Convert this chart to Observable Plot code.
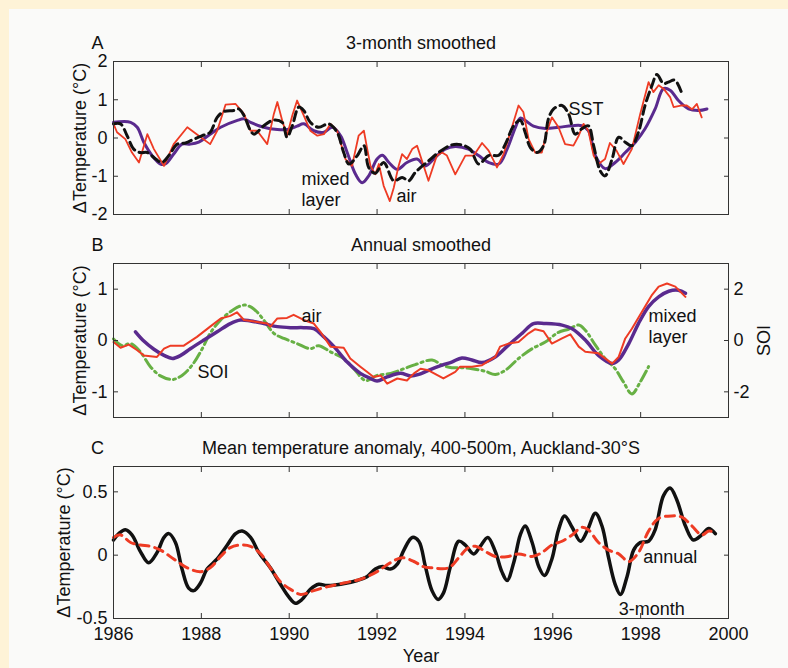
<!DOCTYPE html>
<html><head><meta charset="utf-8">
<script src="https://cdn.jsdelivr.net/npm/d3@7"></script>
<script src="https://cdn.jsdelivr.net/npm/@observablehq/plot@0.6"></script>
<style>
html,body{margin:0;padding:0;}
body{width:788px;height:668px;background:#FEF3D7;overflow:hidden;position:relative;}
#inner{position:absolute;left:9px;top:9px;width:779px;height:659px;background:#FAFAF9;}
.panel{position:absolute;left:0;}
</style></head><body>
<div id="inner"></div>
<div id="pa" class="panel" style="top:0px"></div>
<div id="pb" class="panel" style="top:230px"></div>
<div id="pc" class="panel" style="top:430px"></div>
<script>
// ---------- Panel A: 3-month smoothed (°C) ----------
const aMixed = [[1986.0,0.41],[1986.39,0.41],[1986.54,0.28],[1986.69,-0.11],[1986.88,-0.46],[1987.07,-0.68],[1987.18,-0.68],[1987.37,-0.42],[1987.56,-0.16],[1987.75,-0.16],[1987.94,-0.11],[1988.2,0.1],[1988.44,0.28],[1988.82,0.46],[1988.97,0.5],[1989.12,0.41],[1989.42,0.28],[1989.73,0.22],[1989.95,0.22],[1990.18,0.31],[1990.33,0.37],[1990.56,0.19],[1990.79,0.15],[1990.98,0.28],[1991.17,0.06],[1991.32,-0.38],[1991.51,-0.95],[1991.66,-1.17],[1991.81,-0.99],[1992.0,-0.55],[1992.12,-0.45],[1992.27,-0.64],[1992.46,-0.82],[1992.68,-0.64],[1992.91,-0.55],[1993.1,-0.73],[1993.32,-0.51],[1993.55,-0.29],[1993.78,-0.22],[1994.08,-0.29],[1994.31,-0.46],[1994.54,-0.64],[1994.77,-0.68],[1994.96,-0.29],[1995.15,0.28],[1995.26,0.52],[1995.37,0.46],[1995.56,0.31],[1995.83,0.25],[1996.13,0.28],[1996.44,0.32],[1996.66,0.32],[1996.81,0.19],[1996.97,-0.46],[1997.19,-0.8],[1997.42,-0.64],[1997.65,-0.38],[1997.88,-0.11],[1998.1,0.24],[1998.33,0.76],[1998.52,1.29],[1998.67,1.25],[1998.86,0.98],[1999.09,0.76],[1999.32,0.72],[1999.51,0.76]];
const aSST = [[1986.0,0.37],[1986.16,0.37],[1986.31,0.06],[1986.46,-0.29],[1986.61,-0.38],[1986.77,-0.38],[1986.96,-0.55],[1987.1,-0.64],[1987.26,-0.46],[1987.45,-0.16],[1987.64,-0.13],[1987.83,-0.03],[1988.02,0.06],[1988.2,0.15],[1988.36,0.54],[1988.51,0.69],[1988.74,0.72],[1988.85,0.76],[1988.97,0.59],[1989.12,0.19],[1989.2,0.1],[1989.42,0.32],[1989.65,0.47],[1989.84,0.41],[1989.95,0.02],[1990.07,0.32],[1990.22,0.81],[1990.33,0.72],[1990.48,0.41],[1990.67,0.28],[1990.9,0.37],[1991.09,0.15],[1991.24,-0.38],[1991.36,-0.68],[1991.55,-0.46],[1991.7,-0.2],[1991.81,-0.77],[1991.96,-0.92],[1992.15,-0.64],[1992.38,-1.12],[1992.57,-1.03],[1992.72,-1.12],[1992.87,-0.9],[1993.17,-0.6],[1993.4,-0.38],[1993.7,-0.18],[1993.93,-0.18],[1994.12,-0.29],[1994.31,-0.68],[1994.54,-0.46],[1994.77,-0.45],[1994.92,-0.16],[1995.11,0.32],[1995.26,0.46],[1995.37,0.15],[1995.49,-0.25],[1995.64,-0.38],[1995.79,-0.2],[1995.9,0.5],[1996.02,0.76],[1996.21,0.85],[1996.36,0.63],[1996.51,0.1],[1996.66,0.24],[1996.81,0.32],[1996.93,-0.2],[1997.08,-0.86],[1997.19,-0.99],[1997.35,-0.55],[1997.5,0.02],[1997.65,-0.11],[1997.8,-0.2],[1997.95,0.15],[1998.1,0.85],[1998.26,1.38],[1998.37,1.66],[1998.52,1.42],[1998.63,1.46],[1998.78,1.51],[1998.94,1.16]];
const aAir = [[1986.0,0.37],[1986.08,0.15],[1986.27,-0.03],[1986.42,-0.38],[1986.58,-0.64],[1986.77,0.1],[1986.92,-0.29],[1987.15,-0.73],[1987.37,-0.16],[1987.68,0.28],[1987.94,0.06],[1988.2,-0.16],[1988.36,0.19],[1988.55,0.87],[1988.78,0.89],[1988.97,0.63],[1989.12,0.19],[1989.27,0.19],[1989.5,-0.16],[1989.65,0.63],[1989.73,0.94],[1989.84,0.46],[1989.95,0.06],[1990.07,0.59],[1990.18,0.98],[1990.33,0.59],[1990.48,0.19],[1990.64,0.06],[1990.79,0.1],[1990.94,0.37],[1991.09,0.19],[1991.28,-0.55],[1991.43,-0.73],[1991.58,0.06],[1991.7,0.19],[1991.77,-0.25],[1991.85,-0.73],[1991.96,-0.95],[1992.04,-0.68],[1992.15,-1.25],[1992.29,-1.65],[1992.38,-1.3],[1992.49,-0.73],[1992.57,-0.42],[1992.68,-0.55],[1992.8,-0.29],[1992.91,-0.2],[1993.17,-1.12],[1993.36,-0.46],[1993.48,-0.38],[1993.59,-0.46],[1993.78,-0.95],[1994.01,-0.46],[1994.2,-0.46],[1994.39,-0.13],[1994.54,-0.33],[1994.73,-0.77],[1994.88,-0.42],[1995.07,0.28],[1995.22,0.85],[1995.33,0.68],[1995.45,-0.03],[1995.6,-0.38],[1995.75,-0.38],[1995.86,0.15],[1995.98,0.54],[1996.13,0.28],[1996.28,-0.16],[1996.47,-0.2],[1996.59,0.06],[1996.7,0.37],[1996.81,0.19],[1996.93,-0.46],[1997.04,-0.68],[1997.19,-0.55],[1997.3,-0.13],[1997.45,-0.33],[1997.61,-0.68],[1997.8,-0.29],[1997.99,0.63],[1998.18,1.46],[1998.29,1.2],[1998.41,1.38],[1998.52,1.29],[1998.67,1.07],[1998.75,0.81],[1998.94,0.85],[1999.05,0.85],[1999.17,0.75],[1999.28,0.89],[1999.39,0.54]];

// ---------- Panel B: annual smoothed (°C) and SOI ----------
const bMixed = [[1986.5,0.17],[1986.69,-0.01],[1986.92,-0.17],[1987.15,-0.29],[1987.34,-0.35],[1987.53,-0.29],[1987.75,-0.16],[1988.06,0.01],[1988.36,0.17],[1988.66,0.33],[1988.89,0.4],[1989.12,0.38],[1989.42,0.33],[1989.73,0.27],[1990.03,0.25],[1990.33,0.25],[1990.56,0.23],[1990.79,0.07],[1991.02,-0.12],[1991.32,-0.42],[1991.62,-0.64],[1991.85,-0.74],[1992.0,-0.79],[1992.23,-0.71],[1992.53,-0.64],[1992.76,-0.69],[1992.95,-0.66],[1993.17,-0.58],[1993.48,-0.48],[1993.7,-0.42],[1993.93,-0.34],[1994.16,-0.38],[1994.39,-0.43],[1994.69,-0.32],[1994.99,-0.09],[1995.3,0.14],[1995.56,0.33],[1995.83,0.33],[1996.21,0.3],[1996.44,0.23],[1996.74,0.01],[1997.04,-0.29],[1997.35,-0.45],[1997.5,-0.38],[1997.73,-0.06],[1997.95,0.33],[1998.18,0.66],[1998.41,0.85],[1998.64,0.96],[1998.86,0.98],[1999.02,0.92]];
const bAir = [[1986.0,-0.03],[1986.16,-0.14],[1986.35,-0.08],[1986.54,-0.19],[1986.69,-0.29],[1986.99,-0.32],[1987.15,-0.16],[1987.3,-0.1],[1987.6,-0.1],[1987.9,0.07],[1988.2,0.27],[1988.44,0.43],[1988.66,0.48],[1988.81,0.55],[1988.97,0.4],[1989.27,0.36],[1989.5,0.33],[1989.57,0.27],[1989.73,0.43],[1989.95,0.44],[1990.1,0.5],[1990.33,0.4],[1990.56,0.33],[1990.71,0.17],[1990.94,-0.12],[1991.24,-0.14],[1991.39,-0.35],[1991.62,-0.51],[1991.77,-0.61],[1991.92,-0.71],[1992.08,-0.68],[1992.23,-0.84],[1992.46,-0.74],[1992.68,-0.78],[1992.84,-0.64],[1992.99,-0.55],[1993.17,-0.58],[1993.51,-0.74],[1993.78,-0.61],[1993.89,-0.51],[1994.16,-0.51],[1994.39,-0.48],[1994.69,-0.32],[1994.8,-0.12],[1994.99,-0.06],[1995.22,-0.03],[1995.45,0.14],[1995.6,0.22],[1995.79,0.18],[1995.98,-0.06],[1996.21,0.04],[1996.4,0.12],[1996.59,-0.12],[1996.74,-0.22],[1997.04,-0.25],[1997.35,-0.45],[1997.5,-0.32],[1997.65,0.04],[1997.8,0.23],[1998.03,0.56],[1998.26,0.89],[1998.41,1.05],[1998.6,1.11],[1998.79,1.05],[1999.02,0.85]];
const bSOI = [[1986.0,0.06],[1986.2,-0.2],[1986.39,-0.12],[1986.61,-0.44],[1986.84,-1.02],[1987.07,-1.38],[1987.34,-1.52],[1987.56,-1.36],[1987.79,-0.96],[1988.02,-0.32],[1988.2,0.28],[1988.44,0.8],[1988.66,1.12],[1988.85,1.32],[1989.0,1.38],[1989.2,1.22],[1989.42,0.8],[1989.65,0.28],[1989.88,0.08],[1990.18,-0.12],[1990.48,-0.32],[1990.67,-0.2],[1990.94,-0.44],[1991.24,-0.7],[1991.47,-1.1],[1991.74,-1.56],[1992.0,-1.36],[1992.31,-1.28],[1992.61,-1.1],[1992.87,-0.94],[1993.25,-0.76],[1993.48,-0.96],[1993.7,-1.06],[1993.93,-1.06],[1994.16,-1.1],[1994.46,-1.2],[1994.69,-1.32],[1994.92,-1.16],[1995.22,-0.7],[1995.53,-0.32],[1995.83,-0.06],[1996.13,0.32],[1996.36,0.44],[1996.59,0.6],[1996.74,0.4],[1996.97,-0.18],[1997.19,-0.7],[1997.42,-1.1],[1997.61,-1.62],[1997.8,-2.08],[1997.99,-1.62],[1998.18,-1.02]];

// ---------- Panel C: 400-500 m anomaly (°C) ----------
const c3Month = [[1986.0,0.12],[1986.12,0.17],[1986.27,0.2],[1986.42,0.16],[1986.61,0.03],[1986.8,-0.06],[1986.99,0.02],[1987.15,0.14],[1987.26,0.17],[1987.41,0.1],[1987.56,-0.11],[1987.71,-0.26],[1987.83,-0.28],[1987.98,-0.22],[1988.13,-0.11],[1988.36,-0.03],[1988.59,0.08],[1988.78,0.17],[1988.93,0.19],[1989.12,0.14],[1989.31,0.02],[1989.57,-0.1],[1989.8,-0.23],[1989.99,-0.33],[1990.14,-0.38],[1990.29,-0.35],[1990.48,-0.27],[1990.67,-0.23],[1990.86,-0.24],[1991.17,-0.23],[1991.55,-0.2],[1991.77,-0.17],[1991.96,-0.11],[1992.12,-0.09],[1992.3,-0.11],[1992.46,-0.07],[1992.61,0.04],[1992.8,0.14],[1992.95,0.11],[1993.1,-0.09],[1993.25,-0.28],[1993.39,-0.35],[1993.51,-0.3],[1993.67,-0.09],[1993.86,0.11],[1994.01,0.08],[1994.2,0.01],[1994.35,0.07],[1994.52,0.14],[1994.69,0.03],[1994.84,-0.13],[1994.96,-0.2],[1995.11,-0.06],[1995.26,0.16],[1995.37,0.23],[1995.53,0.1],[1995.68,-0.09],[1995.81,-0.16],[1995.98,-0.03],[1996.13,0.2],[1996.27,0.31],[1996.44,0.22],[1996.63,0.11],[1996.78,0.19],[1996.97,0.33],[1997.12,0.23],[1997.27,-0.02],[1997.42,-0.23],[1997.54,-0.31],[1997.69,-0.17],[1997.84,0.04],[1997.99,0.1],[1998.18,0.11],[1998.33,0.2],[1998.52,0.47],[1998.67,0.53],[1998.82,0.44],[1999.02,0.23],[1999.2,0.12],[1999.39,0.16],[1999.55,0.21],[1999.7,0.17]];
const cAnnual = [[1986.0,0.14],[1986.16,0.16],[1986.39,0.1],[1986.61,0.08],[1986.84,0.07],[1987.07,0.04],[1987.37,-0.03],[1987.68,-0.1],[1987.98,-0.13],[1988.2,-0.1],[1988.44,-0.01],[1988.66,0.06],[1988.89,0.08],[1989.12,0.07],[1989.35,0.01],[1989.57,-0.1],[1989.8,-0.21],[1990.03,-0.27],[1990.26,-0.31],[1990.56,-0.28],[1990.86,-0.25],[1991.24,-0.22],[1991.62,-0.19],[1992.0,-0.13],[1992.3,-0.06],[1992.57,-0.02],[1992.84,-0.05],[1993.05,-0.09],[1993.25,-0.1],[1993.63,-0.1],[1993.86,-0.02],[1994.08,0.06],[1994.24,0.07],[1994.46,0.03],[1994.69,-0.01],[1994.99,-0.01],[1995.22,0.01],[1995.53,-0.01],[1995.75,0.02],[1995.98,0.08],[1996.21,0.11],[1996.44,0.16],[1996.66,0.22],[1996.81,0.2],[1997.04,0.1],[1997.27,0.04],[1997.5,0.01],[1997.73,-0.05],[1997.95,0.02],[1998.18,0.19],[1998.41,0.29],[1998.71,0.31],[1998.94,0.3],[1999.17,0.23],[1999.39,0.16],[1999.55,0.19],[1999.7,0.18]];

// ---------- Tick labels ----------
const xTicks = [1986,1988,1990,1992,1994,1996,1998,2000];
const aYTicks = [-2,-1,0,1,2];
const bYTicks = [-1,0,1];
const bSOITicks = [-2,0,2];
const cYTicks = [-0.5,0,0.5];

const FONT = "'Liberation Sans', Arial, Helvetica, sans-serif";
const RED = "#EE3B24", PURPLE = "#5A2A8E", GREEN = "#67B044", BLACK = "#111";
const X = d => d[0], Y = d => d[1];
const fmt = d => String(d);

function frameMarks(yTicks, opts = {}) {
  const marks = [
    Plot.frame({stroke: "#333", strokeWidth: 1}),
    Plot.axisX({anchor: "top", ticks: xTicks, tickSize: -5, tickFormat: () => "", label: null, stroke: "#333"}),
    Plot.axisY({anchor: "left", ticks: yTicks, tickSize: -5, tickPadding: 11, tickFormat: fmt, label: null, stroke: "#333", fill: "#111"})
  ];
  if (opts.xLabels) {
    marks.push(Plot.axisX({anchor: "bottom", ticks: xTicks, tickSize: -5, tickPadding: 14, tickFormat: fmt, label: null, stroke: "#333", fill: "#111"}));
  } else {
    marks.push(Plot.axisX({anchor: "bottom", ticks: xTicks, tickSize: -5, tickFormat: () => "", label: null, stroke: "#333"}));
  }
  if (!opts.noRight) {
    marks.push(Plot.axisY({anchor: "right", ticks: yTicks, tickSize: -5, tickFormat: () => "", label: null, stroke: "#333"}));
  }
  return marks;
}
function titleMarks(letter, title, labelDx) {
  return [
    Plot.text([letter], {frameAnchor: "top-left", dx: -16, dy: -13, textAnchor: "middle", lineAnchor: "bottom", fill: "#111"}),
    Plot.text([title], {frameAnchor: "top", dy: -13, lineAnchor: "bottom", fill: "#111"}),
    Plot.text(["\u0394Temperature (\u00B0C)"], {frameAnchor: "left", rotate: -90, dx: labelDx, lineAnchor: "middle", textAnchor: "middle", fill: "#111"})
  ];
}
const base = (height, mt, mb, domain) => ({
  width: 788, height, marginLeft: 113, marginRight: 60, marginTop: mt, marginBottom: mb,
  x: {domain: [1986, 2000]}, y: {domain},
  style: {fontFamily: FONT, fontSize: "18px", background: "transparent", color: "#111", overflow: "visible"}
});
const lbl = (text, x, y) => Plot.text([text], {x: () => x, y: () => y, textAnchor: "start", lineAnchor: "bottom", lineHeight: 1.15, fill: "#111"});

// Panel A
document.getElementById("pa").append(Plot.plot({
  ...base(230, 61, 16, [-2, 2]),
  marks: [
    Plot.line(aMixed, {x: X, y: Y, stroke: PURPLE, strokeWidth: 3, curve: "catmull-rom"}),
    Plot.line(aAir, {x: X, y: Y, stroke: RED, strokeWidth: 1.8}),
    Plot.line(aSST, {x: X, y: Y, stroke: BLACK, strokeWidth: 3, strokeDasharray: "9,5", curve: "catmull-rom"}),
    lbl("mixed\nlayer", 1990.28, -1.77),
    lbl("air", 1992.44, -1.68),
    lbl("SST", 1996.36, 0.59),
    ...frameMarks(aYTicks),
    ...titleMarks("A", "3-month smoothed", -33)
  ]
}));

// Panel B
document.getElementById("pb").append(Plot.plot({
  ...base(200, 33, 13, [-1.5, 1.5]),
  marks: [
    Plot.line(bSOI, {x: X, y: d => d[1] / 2, stroke: GREEN, strokeWidth: 3, strokeDasharray: "11,4,2,4", curve: "catmull-rom"}),
    Plot.line(bMixed, {x: X, y: Y, stroke: PURPLE, strokeWidth: 3.5, curve: "catmull-rom"}),
    Plot.line(bAir, {x: X, y: Y, stroke: RED, strokeWidth: 2}),
    lbl("air", 1990.28, 0.37),
    lbl("SOI", 1987.91, -0.73),
    lbl("mixed\nlayer", 1998.18, -0.04),
    ...frameMarks(bYTicks, {noRight: true}),
    Plot.axisY({anchor: "right", ticks: bSOITicks.map(d => d / 2), tickSize: -5, tickPadding: 10, tickFormat: d => String(d * 2), label: null, stroke: "#333", fill: "#111"}),
    Plot.text(["SOI"], {frameAnchor: "right", rotate: -90, dx: 36, lineAnchor: "middle", textAnchor: "middle", fill: "#111"}),
    ...titleMarks("B", "Annual smoothed", -33)
  ]
}));

// Panel C
document.getElementById("pc").append(Plot.plot({
  ...base(238, 36, 50, [-0.5, 0.7]),
  marks: [
    Plot.line(c3Month, {x: X, y: Y, stroke: BLACK, strokeWidth: 3.5, curve: "catmull-rom"}),
    Plot.line(cAnnual, {x: X, y: Y, stroke: RED, strokeWidth: 3, strokeDasharray: "9,6", curve: "catmull-rom"}),
    lbl("annual", 1998.06, -0.06),
    lbl("3-month", 1997.5, -0.47),
    ...frameMarks(cYTicks, {xLabels: true}),
    Plot.text(["Year"], {frameAnchor: "bottom", dy: 43, lineAnchor: "bottom", fill: "#111"}),
    ...titleMarks("C", "Mean temperature anomaly, 400-500m, Auckland-30\u00B0S", -49)
  ]
}));
</script>
</body></html>
